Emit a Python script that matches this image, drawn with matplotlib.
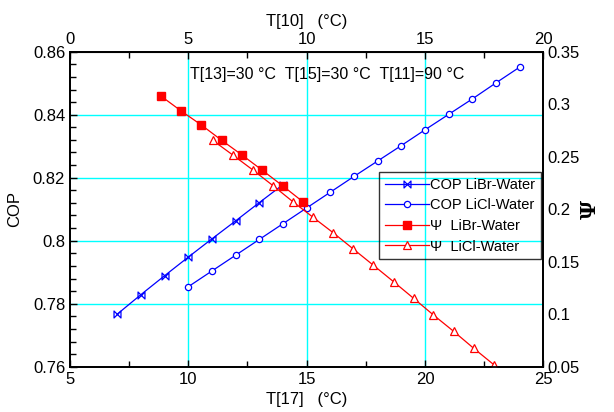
import matplotlib
matplotlib.use('Agg')
import matplotlib.pyplot as plt
from matplotlib.path import Path

plt.rcParams['font.family'] = ['Liberation Sans', 'DejaVu Sans']

# COP vs T[17]
t17_libr = [7, 8, 9, 10, 11, 12, 13, 14]
cop_libr = [0.7767, 0.7829, 0.7889, 0.7948, 0.8006, 0.8063, 0.8121, 0.8178]
t17_licl = [10, 11, 12, 13, 14, 15, 16, 17, 18, 19, 20, 21, 22, 23, 24]
cop_licl = [0.7854, 0.7904, 0.7954, 0.8004, 0.8054, 0.8104, 0.8154, 0.8204,
            0.8253, 0.8302, 0.8352, 0.8401, 0.8450, 0.8501, 0.8551]

# Psi (right axis)
t_psi_libr = [8.84, 9.70, 10.55, 11.41, 12.27, 13.13, 13.98, 14.84]
psi_libr = [0.3078, 0.2935, 0.2802, 0.2656, 0.2516, 0.2370, 0.2224, 0.2071]
t_psi_licl = [11.03, 11.88, 12.73, 13.58, 14.42, 15.27, 16.12, 16.97,
              17.82, 18.67, 19.52, 20.36, 21.21, 22.06, 22.91]
psi_licl = [0.2656, 0.2516, 0.2373, 0.2224, 0.2071, 0.1923, 0.1776, 0.1621,
            0.1466, 0.1310, 0.1151, 0.0992, 0.0837, 0.0675, 0.0519]

bowtie = Path([(-1, -1), (-1, 1), (1, -1), (1, 1), (-1, -1)],
              [Path.MOVETO, Path.LINETO, Path.LINETO, Path.LINETO, Path.CLOSEPOLY])

fig = plt.figure(figsize=(6.14, 4.12), dpi=100)
ax = fig.add_axes([70/614, 1-366.7/412, (543.3-70)/614, 315/412])
ax2 = ax.twinx()

fs = 12

# grid
for v in [10, 15, 20]:
    ax.axvline(v, color='#00ffff', lw=1, zorder=0)
for v in [0.78, 0.80, 0.82, 0.84]:
    ax.axhline(v, color='#00ffff', lw=1, zorder=0)

l1, = ax.plot(t17_libr, cop_libr, color='#0000ff', lw=0.9, marker=bowtie,
              ms=5, mfc='none', mec='#0000ff', mew=0.9)
l2, = ax.plot(t17_licl, cop_licl, color='#0000ff', lw=0.9, marker='o',
              ms=4.5, mfc='white', mec='#0000ff', mew=0.9)
l3, = ax2.plot(t_psi_libr, psi_libr, color='#ff0000', lw=0.9, marker='s',
               ms=6, mfc='#ff0000', mec='#ff0000')
l4, = ax2.plot(t_psi_licl, psi_licl, color='#ff0000', lw=0.9, marker='^',
               ms=6, mfc='white', mec='#ff0000', mew=0.9)

ax.set_xlim(5, 25)
ax.set_ylim(0.76, 0.86)
ax.set_xticks([5, 10, 15, 20, 25])
ax.set_xticks([7.5, 12.5, 17.5, 22.5], minor=True)
ax.set_yticks([0.76, 0.78, 0.80, 0.82, 0.84, 0.86])
ax.set_yticklabels(['0.76', '0.78', '0.8', '0.82', '0.84', '0.86'])
ax.set_yticks([0.764 + 0.004*i for i in range(24) if (i + 1) % 5 != 0], minor=True)
ax.tick_params(axis='both', which='both', direction='in', labelsize=fs, width=1)
ax.tick_params(which='major', length=5)
ax.tick_params(which='minor', length=4)
ax.tick_params(axis='y', which='both', left=True, right=False)
ax.set_xlabel('T[17]   (°C)', fontsize=fs, labelpad=4)
ax.set_ylabel('COP', fontsize=fs, labelpad=8)

ax2.set_ylim(0.05, 0.35)
ax2.set_yticks([0.05, 0.1, 0.15, 0.2, 0.25, 0.3, 0.35])
ax2.set_yticklabels(['0.05', '0.1', '0.15', '0.2', '0.25', '0.3', '0.35'])
ax2.tick_params(axis='y', direction='in', length=0, labelsize=fs, pad=3)
ax2.set_ylabel('Ψ', fontsize=15, fontweight='bold', labelpad=0,
               family=['DejaVu Serif'])

top = ax.secondary_xaxis('top', functions=(lambda x: x - 5, lambda x: x + 5))
top.set_xticks([0, 5, 10, 15, 20])
top.set_xticks([2.5, 7.5, 12.5, 17.5], minor=True)
top.tick_params(which='both', direction='in', labelsize=fs, width=1)
top.tick_params(which='major', length=5)
top.tick_params(which='minor', length=4)
top.set_xlabel('T[10]   (°C)', fontsize=fs, labelpad=4)

for a in (ax, ax2):
    for s in a.spines.values():
        s.set_linewidth(1.3)

fig.text(190/614, 1-75/412, 'T[13]=30 °C  T[15]=30 °C  T[11]=90 °C',
         fontsize=11.5, va='center', ha='left')

leg = ax2.legend([l1, l2, l3, l4],
                 ['COP LiBr-Water', 'COP LiCl-Water', 'Ψ  LiBr-Water', 'Ψ  LiCl-Water'],
                 loc='upper left', bbox_to_anchor=(379/614, 1-172/412),
                 bbox_transform=fig.transFigure, fontsize=10.5, frameon=True,
                 fancybox=False, edgecolor='black', facecolor='none',
                 borderaxespad=0, handlelength=3, borderpad=0.4,
                 labelspacing=0.45, handletextpad=0.1)
leg.get_frame().set_linewidth(1)

fig.savefig('out.png', dpi=100)
